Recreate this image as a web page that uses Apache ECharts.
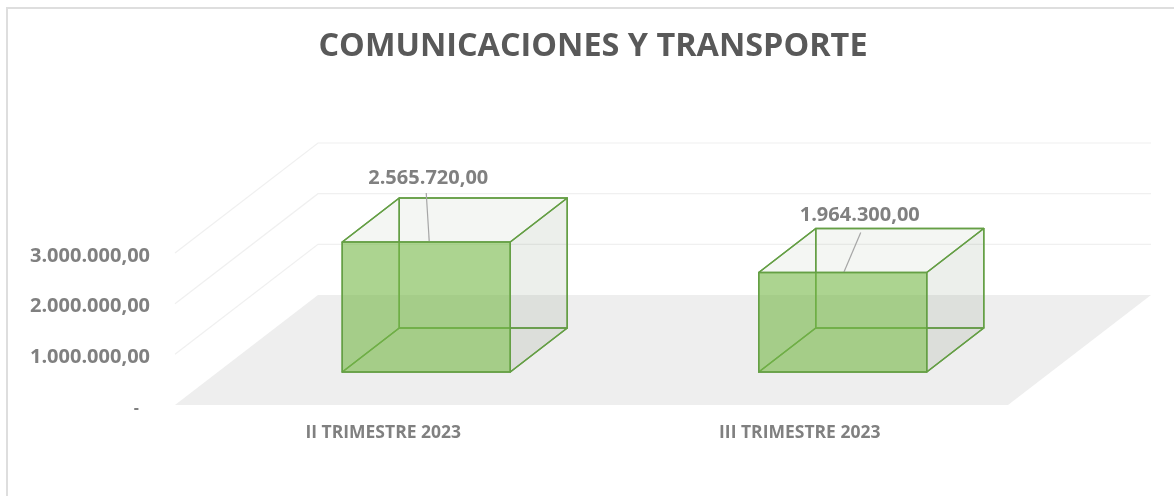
<!DOCTYPE html>
<html>
<head>
<meta charset="utf-8">
<title>Comunicaciones y transporte</title>
<script src="https://cdn.jsdelivr.net/npm/echarts@6/dist/echarts.min.js"></script>
<style>
html, body { margin: 0; padding: 0; background: #fff; }
#main { width: 1174px; height: 496px; }
</style>
</head>
<body>
<div id="main"></div>
<script>
var categories = ['II TRIMESTRE 2023', 'III TRIMESTRE 2023']
var values = [2565720, 1964300]
var yTicks = [0, 1000000, 2000000, 3000000]

// 3d look: how far the back wall and the boxes sit from the front edge of the floor
var floorDepth = [143, -110]
var boxInset = [43, -33]
var boxDepth = [57, -44]
var boxWidth = 168
// leader line and label position, relative to the top of the front face
var leaderStart = [[3, 0], [1, 0]]
var leaderEnd = [[0, -49], [18, -40]]
var labelGap = [[2, -64], [17, -57]]

function fmt(v) {
  var s = String(Math.round(v)).replace(/\B(?=(\d{3})+$)/g, '.')
  return s + ',00'
}

function poly(points, fill) {
  return {
    type: 'polygon',
    shape: { points: points },
    style: { fill: fill, stroke: '#659f45', lineWidth: 1.5, lineJoin: 'round' }
  }
}

function add(p, d) {
  return [p[0] + d[0], p[1] + d[1]]
}

function renderFloor(params, api) {
  var cs = params.coordSys
  var y = api.coord([0, 0])[1]
  var a = [cs.x, y]
  var b = [cs.x + cs.width, y]
  return {
    type: 'polygon',
    shape: { points: [a, b, add(b, floorDepth), add(a, floorDepth)] },
    style: { fill: '#eeeeee' }
  }
}

function renderWall(params, api) {
  var cs = params.coordSys
  var y = api.coord([0, api.value(1)])[1]
  var a = [cs.x, y]
  var b = add(a, floorDepth)
  var c = [cs.x + cs.width + floorDepth[0], b[1]]
  return {
    type: 'polyline',
    shape: { points: [a, b, c] },
    style: { fill: 'none', stroke: '#f0f0f0', lineWidth: 1.2 }
  }
}

function renderBox(params, api) {
  var i = api.value(0)
  var top = add(api.coord([i, api.value(1)]), boxInset)
  var base = add(api.coord([i, 0]), boxInset)
  var x0 = top[0] - boxWidth / 2
  var x1 = top[0] + boxWidth / 2
  var ft = [[x0, top[1]], [x1, top[1]]]
  var fb = [[x0, base[1]], [x1, base[1]]]
  var bt = [add(ft[0], boxDepth), add(ft[1], boxDepth)]
  var bb = [add(fb[0], boxDepth), add(fb[1], boxDepth)]
  var lineTop = add(top, leaderStart[i])
  var lineEnd = add(top, leaderEnd[i])
  var lab = add(top, labelGap[i])
  return {
    type: 'group',
    children: [
      poly([bb[0], bb[1], bt[1], bt[0]], 'rgba(120,135,105,0.02)'),
      poly([fb[0], fb[1], bb[1], bb[0]], 'rgba(120,135,105,0.03)'),
      poly([ft[0], ft[1], bt[1], bt[0]], 'rgba(120,140,100,0.06)'),
      poly([ft[1], fb[1], bb[1], bt[1]], 'rgba(100,115,90,0.1)'),
      poly([bb[0], fb[0], ft[0], bt[0]], 'rgba(120,135,105,0.02)'),
      {
        type: 'line',
        shape: { x1: lineTop[0], y1: lineTop[1], x2: lineEnd[0], y2: lineEnd[1] },
        style: { stroke: '#a6a6a6', lineWidth: 1.2 }
      },
      poly([ft[0], ft[1], fb[1], fb[0]], 'rgba(118,185,71,0.6)'),
      {
        type: 'text',
        style: {
          text: fmt(api.value(1)),
          x: lab[0],
          y: lab[1],
          align: 'center',
          verticalAlign: 'middle',
          fill: '#808080',
          font: 'bold 20px "Open Sans"'
        }
      }
    ]
  }
}

var myChart = echarts.init(document.getElementById('main'))
myChart.setOption({
  animation: false,
  backgroundColor: '#ffffff',
  title: {
    text: 'COMUNICACIONES Y TRANSPORTE',
    left: 588,
    top: 26,
    textAlign: 'center',
    textStyle: {
      fontFamily: 'Open Sans',
      fontSize: 32.4,
      fontWeight: 'bold',
      color: '#595959'
    }
  },
  graphic: [{
    type: 'polyline',
    shape: { points: [[1174, 8], [7, 8], [7, 496]] },
    style: { fill: 'none', stroke: '#dedede', lineWidth: 2 }
  }],
  grid: {
    left: 175,
    right: 166,
    top: 253,
    bottom: 91
  },
  xAxis: {
    type: 'category',
    data: categories,
    axisLine: { show: false },
    axisTick: { show: false },
    axisLabel: {
      margin: 19,
      fontFamily: 'Open Sans',
      fontSize: 17.5,
      fontWeight: 'bold',
      color: '#808080'
    }
  },
  yAxis: {
    type: 'value',
    min: 0,
    max: 3000000,
    interval: 1000000,
    axisLine: { show: false },
    axisTick: { show: false },
    splitLine: { show: false },
    axisLabel: {
      margin: 25,
      fontFamily: 'Open Sans',
      fontSize: 20,
      fontWeight: 'bold',
      color: '#808080',
      padding: [6, 0, 0, 0],
      formatter: function(v) {
        return v === 0 ? '{dash|-}' : fmt(v)
      },
      rich: {
        dash: { padding: [0, 11, 0, 0], fontSize: 16, fontWeight: 'bold', color: '#808080' }
      }
    }
  },
  series: [{
    type: 'custom',
    silent: true,
    renderItem: renderFloor,
    data: [[0, 0]],
    z: 1
  }, {
    type: 'custom',
    silent: true,
    renderItem: renderWall,
    data: yTicks.slice(1).map(function(v) {
      return [0, v]
    }),
    z: 2
  }, {
    type: 'custom',
    silent: true,
    renderItem: renderBox,
    data: values.map(function(v, i) {
      return [i, v]
    }),
    z: 3
  }]
})
</script>
</body>
</html>
